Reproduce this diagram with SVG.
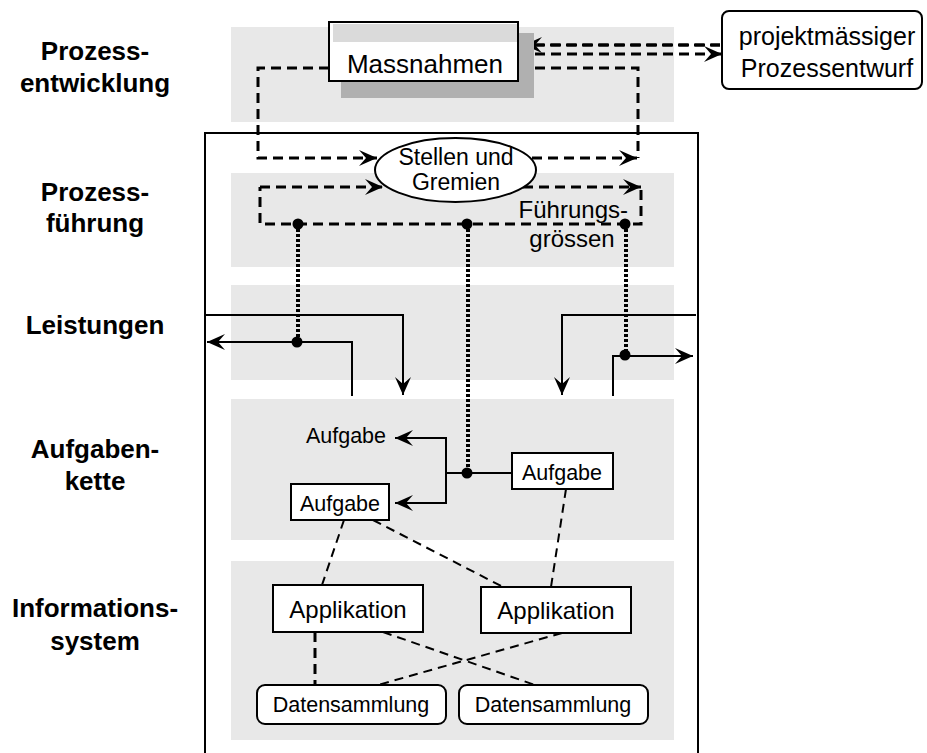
<svg xmlns="http://www.w3.org/2000/svg" width="927" height="753" viewBox="0 0 927 753">
  <style>
    text { font-family: "Liberation Sans", Arial, Helvetica, sans-serif; fill: #000; }
    .lbl { font-size: 26px; font-weight: bold; text-anchor: middle; }
    .t25 { font-size: 25px; text-anchor: middle; }
    .t24 { font-size: 24px; text-anchor: middle; }
    .t23 { font-size: 23px; text-anchor: middle; }
    .t21 { font-size: 21.5px; text-anchor: middle; }
    .band { fill: #e8e8e8; }
    .box { fill: #fff; stroke: #000; stroke-width: 2; }
    .solid { fill: none; stroke: #000; stroke-width: 2; }
    .dash { fill: none; stroke: #000; stroke-width: 3; stroke-dasharray: 10 6; }
    .dashThin { fill: none; stroke: #000; stroke-width: 2; stroke-dasharray: 9 6; }
    .dot { fill: none; stroke: #000; stroke-width: 4; stroke-dasharray: 3 2; }
    .node { fill: #000; }
  </style>
  <defs>
    <marker id="ah" viewBox="-19 -9 20 18" refX="0" refY="0" markerWidth="20" markerHeight="18" orient="auto" markerUnits="userSpaceOnUse">
      <path d="M0,0 L-18,-8 L-11,0 L-18,8 Z" fill="#000"/>
    </marker>
  </defs>

  <!-- level bands -->
  <g id="bands">
    <rect class="band" x="231" y="27" width="443" height="95"/>
    <rect class="band" x="231" y="173" width="443" height="94"/>
    <rect class="band" x="231" y="285" width="443" height="95"/>
    <rect class="band" x="231" y="399" width="443" height="141"/>
    <rect class="band" x="231" y="561" width="443" height="179"/>
  </g>

  <!-- process frame -->
  <path id="frame" d="M205,760 V133 H698 V760" fill="none" stroke="#000" stroke-width="2"/>

  <!-- level labels -->
  <g id="labels">
    <text class="lbl" x="95" y="60">Prozess-</text>
    <text class="lbl" x="95" y="92">entwicklung</text>
    <text class="lbl" x="95" y="201">Prozess-</text>
    <text class="lbl" x="95" y="232">führung</text>
    <text class="lbl" x="95" y="334">Leistungen</text>
    <text class="lbl" x="95" y="458">Aufgaben-</text>
    <text class="lbl" x="95" y="490">kette</text>
    <text class="lbl" x="95" y="617">Informations-</text>
    <text class="lbl" x="95" y="650">system</text>
  </g>

  <!-- connectors -->
  <g id="connectors">
    <!-- development loop -->
    <path class="dash" d="M329,68 H258 V158 H377" marker-end="url(#ah)"/>
    <path class="dash" d="M535,68 H638 V158"/>
    <path class="dash" d="M532,158 H637" marker-end="url(#ah)"/>
    <path class="dash" d="M535,45 H720"/>
    <path class="dash" d="M720,45 H524" marker-end="url(#ah)" stroke-dasharray="0 1000"/>
    <path class="dash" d="M535,54 H722" marker-end="url(#ah)"/>
    <!-- steering loop -->
    <path class="dash" d="M260,187 H383" marker-end="url(#ah)"/>
    <path class="dash" d="M523,187 H641" marker-end="url(#ah)"/>
    <path class="dash" d="M641,190 V224 H260 V187"/>
    <!-- steering signals -->
    <path class="dot" d="M298,224 V342"/>
    <path class="dot" d="M468,224 V473"/>
    <path class="dot" d="M626,224 V355" stroke-width="4.5"/>
    <!-- performance flows -->
    <path class="solid" d="M205,315 H403 V395" marker-end="url(#ah)"/>
    <path class="solid" d="M352,396 V342 H207" marker-end="url(#ah)"/>
    <path class="solid" d="M696,315 H562 V395" marker-end="url(#ah)"/>
    <path class="solid" d="M613,396 V356 H693" marker-end="url(#ah)"/>
    <!-- task chain -->
    <path class="solid" d="M446,473 V438 H395" marker-end="url(#ah)"/>
    <path class="solid" d="M446,473 V503 H395" marker-end="url(#ah)"/>
    <path class="solid" d="M446,473 H512"/>
    <!-- task / application / data relations -->
    <path class="dashThin" d="M344,520 L322,585"/>
    <path class="dashThin" d="M373,520 L503,587"/>
    <path class="dashThin" d="M566,489 L551,587"/>
    <path class="dash" d="M315,632 V685"/>
    <path class="dashThin" d="M383,632 L535,685"/>
    <path class="dashThin" d="M562,633 L378,685"/>
    <!-- junction points -->
    <circle class="node" cx="298" cy="224" r="5.5"/>
    <circle class="node" cx="467" cy="224" r="5.5"/>
    <circle class="node" cx="625" cy="224" r="5.5"/>
    <circle class="node" cx="297" cy="342" r="5.5"/>
    <circle class="node" cx="625" cy="355" r="5.5"/>
    <circle class="node" cx="467" cy="473" r="5.5"/>
  </g>

  <g id="massnahmen">
    <rect x="341" y="33" width="193" height="65" fill="#b0b0b0"/>
    <rect class="box" x="329" y="22" width="189" height="59"/>
    <rect x="333" y="24" width="184" height="18" fill="#dadada"/>
    <text class="t25" x="425" y="73" style="font-size:26px">Massnahmen</text>
  </g>

  <g id="prozessentwurf">
    <rect class="box" x="722" y="11" width="200" height="78" rx="7"/>
    <text class="t25" x="827" y="45">projektmässiger</text>
    <text class="t25" x="827" y="77">Prozessentwurf</text>
  </g>

  <g id="stellen">
    <ellipse class="box" cx="455.5" cy="170" rx="80.5" ry="32"/>
    <text class="t23" x="456" y="165">Stellen und</text>
    <text class="t23" x="456" y="190">Gremien</text>
  </g>

  <g id="fuehrungsgroessen">
    <text class="t24" x="628" y="218" style="text-anchor:end">Führungs-</text>
    <text class="t24" x="572" y="247">grössen</text>
  </g>

  <g id="aufgabe-extern">
    <text class="t21" x="346" y="443">Aufgabe</text>
  </g>
  <g id="aufgabe-1">
    <rect class="box" x="291" y="484" width="98" height="36"/>
    <text class="t21" x="340" y="511">Aufgabe</text>
  </g>
  <g id="aufgabe-2">
    <rect class="box" x="512" y="453" width="101" height="36"/>
    <text class="t21" x="562" y="480">Aufgabe</text>
  </g>

  <g id="applikation-1">
    <rect class="box" x="273" y="585" width="150" height="47"/>
    <text class="t24" x="348" y="618">Applikation</text>
  </g>
  <g id="applikation-2">
    <rect class="box" x="481" y="587" width="150" height="46"/>
    <text class="t24" x="556" y="619">Applikation</text>
  </g>

  <g id="datensammlung-1">
    <rect class="box" x="257" y="685" width="189" height="39" rx="8"/>
    <text class="t21" x="351" y="712">Datensammlung</text>
  </g>
  <g id="datensammlung-2">
    <rect class="box" x="459" y="685" width="189" height="39" rx="8"/>
    <text class="t21" x="553" y="712">Datensammlung</text>
  </g>
</svg>
